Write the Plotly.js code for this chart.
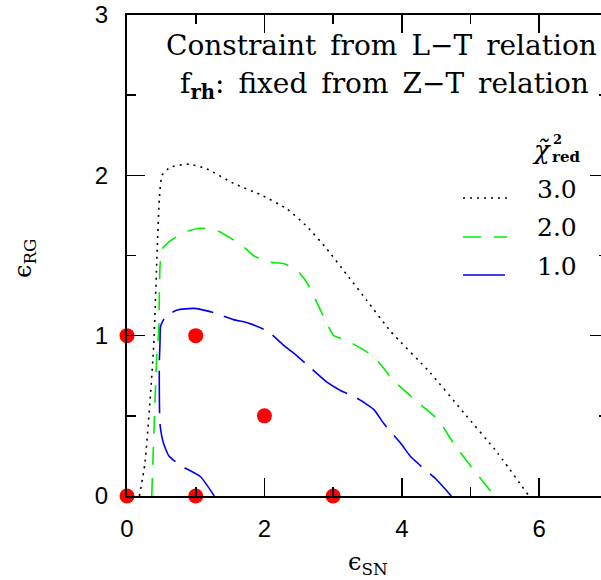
<!DOCTYPE html>
<html>
<head>
<meta charset="utf-8">
<script src="https://cdn.plot.ly/plotly-3.0.1.min.js"></script>
<style>
html,body{margin:0;padding:0;overflow:hidden;background:#fff;}
#chart{width:620px;height:580px;}
</style>
</head>
<body>
<div id="chart"></div>
<script>
// ---- data ----
const chi3X = [0.18,0.26,0.34,0.39,0.44,0.47,0.51,0.63,0.90,1.16,1.55,1.94,2.33,2.62,2.91,3.20,3.49,3.83,4.41,4.90,5.39,5.85];
const chi3Y = [0.0,0.20,0.62,0.95,1.54,1.85,2.00,2.05,2.07,2.04,1.95,1.88,1.79,1.68,1.54,1.38,1.22,1.03,0.77,0.52,0.27,0.0];

const chi2X = [0.36,0.41,0.44,0.46,0.48,0.51,0.66,0.87,1.07,1.29,1.65,1.84,2.04,2.28,2.47,2.62,2.86,3.01,3.20,3.59,3.88,4.22,4.54,4.75,5.05,5.35];
const chi2Y = [0.0,0.62,0.93,1.01,1.43,1.54,1.60,1.65,1.67,1.66,1.57,1.50,1.46,1.45,1.41,1.33,1.12,1.00,0.97,0.87,0.72,0.59,0.47,0.33,0.16,0.0];

const chi1X = [1.27,1.07,0.78,0.61,0.53,0.48,0.47,0.48,0.49,0.56,0.73,0.97,1.21,1.55,1.75,2.04,2.28,2.43,2.67,2.91,3.10,3.35,3.59,3.74,3.98,4.12,4.27,4.51,4.72];
const chi1Y = [0.0,0.12,0.19,0.25,0.33,0.45,0.83,0.95,1.06,1.12,1.16,1.17,1.15,1.10,1.08,1.03,0.94,0.89,0.80,0.71,0.66,0.61,0.54,0.45,0.33,0.25,0.19,0.10,0.0];

const modelX = [0,1,3,0,1,2];
const modelY = [0,0,0,1,1,0.5];

const levelLabels = ['3.0','2.0','1.0'];
const xTickVals = [0,2,4,6];
const yTickVals = [0,1,2,3];
const SP = '\u2002';
const titleLine1 = ['Constraint','from','L\u2212T','relation'].join(SP);
const titleLine2 = ['f<sub><b>rh</b></sub>:','fixed','from','Z\u2212T','relation'].join(SP);

// ---- styles ----
const serif = 'DejaVu Serif';
const levelStyles = [
  {color:'#000000', dash:'2px,5px', width:1.6},
  {color:'#00ee00', dash:'18px,13px', width:1.6},
  {color:'#0000ee', dash:'42px,11px', width:1.6}
];
const series = [[chi3X,chi3Y],[chi2X,chi2Y],[chi1X,chi1Y]];

const traces = series.map((s,i)=>({
  x:s[0], y:s[1], type:'scatter', mode:'lines',
  line:{color:levelStyles[i].color, dash:levelStyles[i].dash, width:levelStyles[i].width, shape:'spline', smoothing:0.5},
  showlegend:false, hoverinfo:'skip'
}));
traces.push({
  x:modelX, y:modelY, type:'scatter', mode:'markers',
  marker:{color:'#ff0000', size:15}, cliponaxis:false, showlegend:false
});

// plot area in px: left 127, right 608, top 15, bottom 496
const L=127, R=608, T=15, B=496;
const px = v => (v-L)/(R-L);
const py = v => (B-v)/(B-T);

const shapes = [];
const annotations = [];
const legendY = [198,237,275];
levelLabels.forEach((lab,i)=>{
  shapes.push({type:'line', xref:'paper', yref:'paper', x0:px(463), x1:px(507), y0:py(legendY[i]), y1:py(legendY[i]),
    line:{color:levelStyles[i].color, dash:levelStyles[i].dash, width:levelStyles[i].width}});
  annotations.push({xref:'paper', yref:'paper', x:px(579), y:py(legendY[i]-9), xanchor:'right', yanchor:'middle',
    text:lab, showarrow:false, font:{family:serif, size:25, color:'#000'}});
});
annotations.push({xref:'paper', yref:'paper', x:px(599), y:py(45), xanchor:'right', yanchor:'middle',
  text:titleLine1, showarrow:false, font:{family:serif, size:28, color:'#000'}});
annotations.push({xref:'paper', yref:'paper', x:px(591), y:py(85), xanchor:'right', yanchor:'middle',
  text:titleLine2, showarrow:false, font:{family:serif, size:28, color:'#000'}});
// legend title chi~^2_red
annotations.push({xref:'paper', yref:'paper', x:px(542), y:py(150), xanchor:'center', yanchor:'middle',
  text:'<i>\u03C7\u0303</i>', showarrow:false, font:{family:serif, size:26, color:'#000'}});
annotations.push({xref:'paper', yref:'paper', x:px(557), y:py(139), xanchor:'center', yanchor:'middle',
  text:'<b>2</b>', showarrow:false, font:{family:serif, size:13, color:'#000'}});
annotations.push({xref:'paper', yref:'paper', x:px(566), y:py(157), xanchor:'center', yanchor:'middle',
  text:'<b>red</b>', showarrow:false, font:{family:serif, size:15, color:'#000'}});
// axis titles
annotations.push({xref:'paper', yref:'paper', x:px(368), y:py(563), xanchor:'center', yanchor:'middle',
  text:'\u03F5<sub>SN</sub>', showarrow:false, font:{family:serif, size:24, color:'#000'}});
annotations.push({xref:'paper', yref:'paper', x:px(24), y:py(258), xanchor:'center', yanchor:'middle', textangle:-90,
  text:'\u03F5<sub>RG</sub>', showarrow:false, font:{family:serif, size:24, color:'#000'}});

const axisCommon = {
  showgrid:false, zeroline:false, showline:true, linecolor:'#000', linewidth:2,
  mirror:'ticks', ticks:'inside', ticklen:18, tickwidth:1.6, tickcolor:'#000',
  tickfont:{family:'Liberation Sans', size:24, color:'#000'}, fixedrange:true
};

const layout = {
  width:620, height:580,
  margin:{l:L, r:620-R, t:T, b:580-B},
  paper_bgcolor:'#fff', plot_bgcolor:'#fff',
  xaxis:Object.assign({}, axisCommon, {range:[0,7], tickvals:xTickVals, ticktext:xTickVals.map(String), ticklabelstandoff:10,
    minor:{dtick:1, tick0:0, ticks:'inside', ticklen:9, tickwidth:1.6, tickcolor:'#000'}}),
  yaxis:Object.assign({}, axisCommon, {range:[0,3], tickvals:yTickVals, ticktext:yTickVals.map(String), ticklabelstandoff:12,
    minor:{dtick:0.5, tick0:0, ticks:'inside', ticklen:9, tickwidth:1.6, tickcolor:'#000'}}),
  shapes:shapes, annotations:annotations, showlegend:false
};

Plotly.newPlot('chart', traces, layout, {displayModeBar:false, staticPlot:true});
</script>
</body>
</html>
